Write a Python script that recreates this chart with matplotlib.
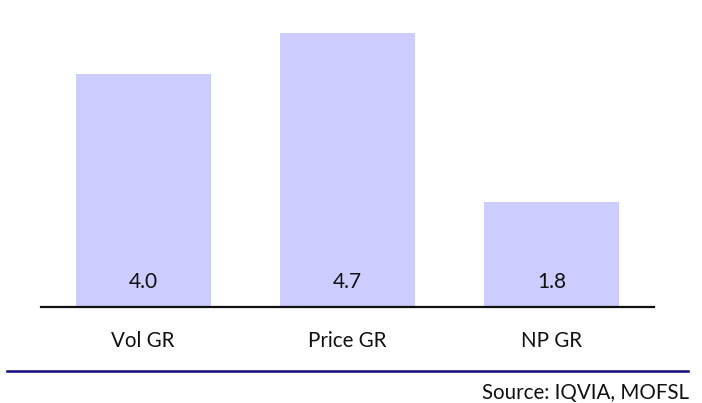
import matplotlib
matplotlib.use("Agg")
import matplotlib.pyplot as plt
from matplotlib.lines import Line2D

plt.rcParams['font.family'] = ['Lato', 'DejaVu Sans']

categories = ['Vol GR', 'Price GR', 'NP GR']
values = [4.0, 4.7, 1.8]
source_text = 'Source: IQVIA, MOFSL'

W, H = 702, 403
fig = plt.figure(figsize=(W / 100, H / 100), dpi=100)
ax = fig.add_axes([41 / W, (H - 307) / H, (654 - 41) / W, (307 - 15.5) / H])

x = range(len(categories))
ax.bar(x, values, width=0.66, color='#ccccff', edgecolor='none', zorder=1)
for xi, v in zip(x, values):
    ax.text(xi, 0.43, f'{v:.1f}', ha='center', va='center', fontsize=15, color='#111111')

ax.set_xlim(-0.5, 2.5)
ax.set_ylim(0, 5)
ax.set_xticks(list(x))
ax.set_xticklabels(categories, fontsize=14.8, color='#111111')
ax.tick_params(axis='x', length=0, pad=17)
ax.set_yticks([])
for s in ['top', 'right', 'left']:
    ax.spines[s].set_visible(False)
ax.spines['bottom'].set_linewidth(1.6)
ax.spines['bottom'].set_color('#111111')

# footer rule and source
fig.add_artist(Line2D([7 / W, 688 / W], [(H - 371) / H] * 2, color='#140a80', linewidth=1.8))
fig.text(689 / W, (H - 393) / H, source_text, ha='right', va='center', fontsize=14.8, color='#111111')

fig.savefig('out.png', dpi=100)
